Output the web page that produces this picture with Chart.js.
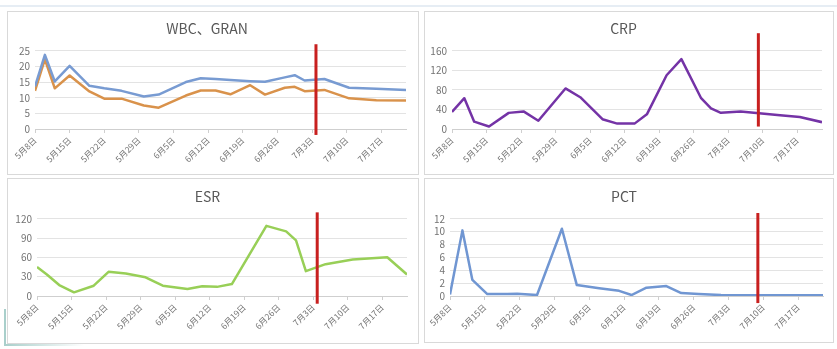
<!DOCTYPE html>
<html>
<head>
<meta charset="utf-8">
<script src="https://cdn.jsdelivr.net/npm/chart.js@4.4.0/dist/chart.umd.min.js"></script>
<style>
  body { margin: 0; background: #fff; width: 837px; height: 349px; overflow: hidden; position: relative; }
  .panel { position: absolute; border: 1px solid #d9d9d9; background: #fff; }
  .panel canvas { display: block; }
  /* bits of the screenshot frame */
  .frame-top { position: absolute; left: 0; top: 5px; width: 837px; height: 2px; background: #e6edf4; }
  .frame-left { position: absolute; left: 4px; top: 309px; width: 2px; height: 37px; background: #a9cfcb; }
  .frame-bottom { position: absolute; left: 4px; top: 344px; width: 80px; height: 2px;
    background: linear-gradient(to right, #a9cfcb, rgba(169,207,203,0)); }
</style>
</head>
<body>
<div class="frame-top"></div>
<div class="panel" style="left:7px;top:11px;"><canvas id="wbc" width="410" height="162"></canvas></div>
<div class="panel" style="left:424px;top:11px;"><canvas id="crp" width="408" height="162"></canvas></div>
<div class="panel" style="left:7px;top:178px;"><canvas id="esr" width="410" height="164"></canvas></div>
<div class="panel" style="left:424px;top:178px;"><canvas id="pct" width="408" height="163"></canvas></div>
<div class="frame-left"></div>
<div class="frame-bottom"></div>

<script>
// days counted from 5月8日
const tickDays = [0, 7, 14, 21, 28, 35, 42, 49, 56, 63, 70];
const tickLabels = ['5月8日', '5月15日', '5月22日', '5月29日', '6月5日', '6月12日', '6月19日', '6月26日', '7月3日', '7月10日', '7月17日'];

// WBC / GRAN
const wbcDays = [0, 2, 4, 7, 11, 14, 17.5, 22, 25, 30.5, 33.5, 36.5, 39.5, 43.5, 46.5, 50.5, 52.5, 54.5, 58.5, 63.5, 69, 75];
const wbcValues = [13.6, 23.7, 15.2, 20.2, 13.8, 13.0, 12.2, 10.4, 11.0, 15.0, 16.2, 16.0, 15.7, 15.3, 15.1, 16.5, 17.2, 15.5, 16.0, 13.2, 12.9, 12.5];
const granValues = [12.2, 22.3, 13.0, 17.1, 12.0, 9.7, 9.7, 7.5, 6.8, 10.7, 12.3, 12.3, 11.1, 14.0, 11.0, 13.2, 13.5, 12.1, 12.5, 9.8, 9.2, 9.1];

// CRP
const crpDays = [0, 2.5, 4.5, 7.5, 11.5, 14.5, 17.5, 23, 26, 30.5, 33.5, 37, 39.5, 43.5, 46.5, 50.5, 52.5, 54.5, 58.5, 66.5, 70.5, 75];
const crpValues = [35, 63, 15, 5, 33, 36, 17, 83, 65, 20, 11, 11, 30, 110, 143, 63, 42, 33, 36, 28, 24.5, 14];

// ESR
const esrDays = [0, 2, 4.5, 7.5, 11.5, 14.5, 18, 22, 25.5, 30.5, 33.5, 36.5, 39.5, 46.5, 50.5, 52.5, 54.5, 58.5, 64, 71, 75];
const esrValues = [45, 33.5, 17, 5.7, 16, 37.6, 35, 29, 16, 10.8, 15, 14.2, 18.5, 109, 100.5, 86.5, 38.6, 49.5, 56.7, 60.3, 33.5];

// PCT
const pctDays = [0, 2.5, 4.5, 7.5, 11.5, 13.5, 17.5, 22.5, 25.5, 30, 34, 36.5, 39.5, 43.5, 46.5, 50, 54.5, 58, 63, 67, 71, 75];
const pctValues = [0.25, 10.2, 2.5, 0.3, 0.3, 0.35, 0.15, 10.45, 1.7, 1.2, 0.8, 0.15, 1.3, 1.55, 0.45, 0.3, 0.15, 0.1, 0.1, 0.1, 0.1, 0.1];

// red vertical marker: day, bottom value, top value
const wbcMarker = [56.8, -1.9, 27.1];
const crpMarker = [62.1, 5, 196];
const esrMarker = [56.8, -12, 130];
const pctMarker = [61.9, -1.1, 12.9];

const FONT = '"Noto Sans CJK SC", "Noto Sans", sans-serif';

function toPoints(days, values) {
  return days.map((d, i) => ({ x: d, y: values[i] }));
}

function lineSet(days, values, color) {
  return {
    data: toPoints(days, values),
    borderColor: color,
    borderWidth: 2.5,
    pointRadius: 0,
    tension: 0,
    borderJoinStyle: 'round'
  };
}

function markerSet(marker) {
  return {
    data: [{ x: marker[0], y: marker[1] }, { x: marker[0], y: marker[2] }],
    borderColor: '#c8201f',
    borderWidth: 3,
    pointRadius: 0,
    clip: false,
    order: -1
  };
}

function buildChart(id, p) {
  const ctx = document.getElementById(id);
  return new Chart(ctx, {
    type: 'line',
    data: { datasets: p.datasets },
    options: {
      responsive: false,
      animation: false,
      layout: { padding: { left: 0, right: p.padRight, top: 0, bottom: 0 } },
      plugins: {
        legend: { display: false },
        tooltip: { enabled: false },
        title: {
          display: true,
          text: p.title,
          color: '#595959',
          font: { family: FONT, size: 14, weight: 'normal' },
          padding: { top: p.titleTop, bottom: p.titleBottom }
        }
      },
      scales: {
        x: {
          type: 'linear',
          min: 0,
          max: 75,
          afterBuildTicks: (axis) => { axis.ticks = tickDays.map((v) => ({ value: v })); },
          afterFit: (axis) => { axis.height = p.xHeight; },
          grid: { drawOnChartArea: false, color: '#cfcfcf', tickLength: 4 },
          border: { color: '#cfcfcf' },
          ticks: {
            autoSkip: false,
            maxRotation: 45,
            minRotation: 45,
            padding: 2,
            color: '#737373',
            font: { family: FONT, size: 8.5 },
            callback: (v, i) => tickLabels[i]
          }
        },
        y: {
          min: p.yMin,
          max: p.yMax,
          afterFit: (axis) => { axis.width = p.yWidth; },
          grid: { color: '#e3e3e3', drawTicks: false },
          border: { display: false },
          ticks: {
            autoSkip: false,
            stepSize: p.yStep,
            padding: 5,
            color: '#737373',
            font: { family: FONT, size: 10 }
          }
        }
      }
    }
  });
}

buildChart('wbc', {
  title: 'WBC、GRAN',
  datasets: [lineSet(wbcDays, wbcValues, '#789bd2'), lineSet(wbcDays, granValues, '#d9924b'), markerSet(wbcMarker)],
  yMin: 0, yMax: 25, yStep: 5,
  yWidth: 27, padRight: 12, xHeight: 45, titleTop: 8, titleBottom: 14
});

buildChart('crp', {
  title: 'CRP',
  datasets: [lineSet(crpDays, crpValues, '#7433a6'), markerSet(crpMarker)],
  yMin: 0, yMax: 160, yStep: 40,
  yWidth: 27, padRight: 11, xHeight: 45, titleTop: 8, titleBottom: 14
});

buildChart('esr', {
  title: 'ESR',
  datasets: [lineSet(esrDays, esrValues, '#98cf57'), markerSet(esrMarker)],
  yMin: 0, yMax: 120, yStep: 30,
  yWidth: 29, padRight: 11, xHeight: 47, titleTop: 9, titleBottom: 14
});

buildChart('pct', {
  title: 'PCT',
  datasets: [lineSet(pctDays, pctValues, '#7096d2'), markerSet(pctMarker)],
  yMin: 0, yMax: 12, yStep: 2,
  yWidth: 25, padRight: 10, xHeight: 46, titleTop: 9, titleBottom: 14
});
</script>
</body>
</html>
